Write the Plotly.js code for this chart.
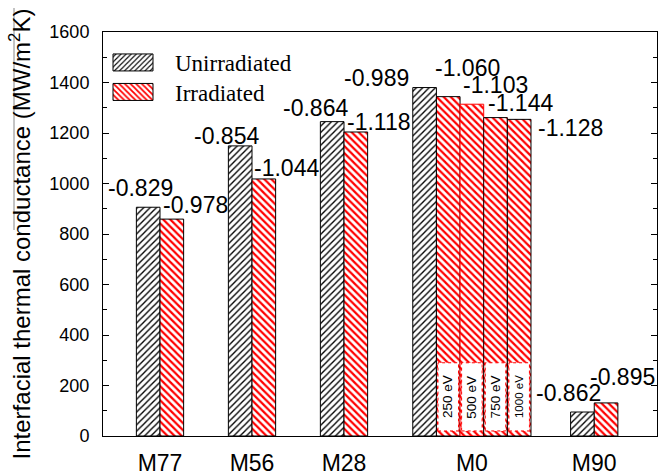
<!DOCTYPE html>
<html>
<head>
<meta charset="utf-8">
<script src="https://cdn.plot.ly/plotly-3.0.1.min.js"></script>
<style>
  html, body { margin: 0; padding: 0; background: #fff; }
  #chart { width: 663px; height: 475px; }
</style>
</head>
<body>
<div id="chart"></div>
<script>
// Interfacial thermal conductance per interface model
const categories = ['M77', 'M56', 'M28', 'M0', 'M90'];
const unirradiated = [906, 1149, 1245, 1380, 95];
const irradiated = [[859], [1018], [1204], [1344, 1314, 1261, 1254], [131]];
const unirradiatedLabels = ['-0.829', '-0.854', '-0.864', '-0.989', '-0.862'];
const irradiatedLabels = [['-0.978'], ['-1.044'], ['-1.118'], ['-1.060', '-1.103', '-1.144', '-1.128'], ['-0.895']];
const energies = ['250 eV', '500 eV', '750 eV', '1000 eV'];
const yTickValues = [0, 200, 400, 600, 800, 1000, 1200, 1400, 1600];

// Geometry of the grouped bars
const groupPos = [1, 2, 3, 4.39, 5.72];
const barW = 0.257;
const unShift = [[-8, 19], [-14, 10], [-17, 14], [-48, 10], [-14, 19]];
const irShift = [[[24, 14]], [[23, 11]], [[23, 10]], [[19, 29], [24, 19], [25, 15], [51, -9]], [[16, 26]]];

const unX = [], irX = [], irY = [], irLine = [];
const annotations = [];
const shapes = [];
const labelFont = { family: 'Liberation Sans, Arial, sans-serif', size: 23, color: '#000' };

categories.forEach((c, i) => {
  const n = 1 + irradiated[i].length;
  const start = groupPos[i] - (n - 1) / 2 * barW;
  unX.push(start);
  annotations.push({
    x: start, y: unirradiated[i], text: unirradiatedLabels[i], showarrow: false,
    xanchor: 'center', yanchor: 'middle', xshift: unShift[i][0], yshift: unShift[i][1], font: labelFont
  });
  irradiated[i].forEach((v, k) => {
    const bx = start + (k + 1) * barW;
    irX.push(bx);
    irY.push(v);
    irLine.push(irradiated[i].length > 1 && k === 1 ? '#ff0000' : '#000');
    annotations.push({
      x: bx, y: v, text: irradiatedLabels[i][k], showarrow: false,
      xanchor: 'center', yanchor: 'middle', xshift: irShift[i][k][0], yshift: irShift[i][k][1], font: labelFont
    });
    if (irradiated[i].length > 1) {
      shapes.push({
        type: 'rect', xref: 'x', yref: 'y', layer: 'above',
        x0: bx - barW / 2 + 0.017, x1: bx + barW / 2 - 0.017, y0: 20, y1: 290,
        fillcolor: '#fff', line: { color: '#ff0000', width: 1, dash: 'dot' }
      });
      annotations.push({
        x: bx, y: 155, text: energies[k], showarrow: false, textangle: -90,
        xanchor: 'center', yanchor: 'middle',
        font: { family: 'Liberation Sans, Arial, sans-serif', size: energies[k].length > 6 ? 11.5 : 13.5, color: '#000' }
      });
    }
  });
});

// thin rule beside the axis title
shapes.push({
  type: 'line', xref: 'paper', yref: 'paper',
  x0: (14 - 103) / 554, x1: (14 - 103) / 554, y0: (436 - 8) / 404, y1: (436 - 230) / 404,
  line: { color: '#888', width: 1 }
});

const traces = [
  {
    type: 'bar', name: 'Unirradiated', x: unX, y: unirradiated, width: barW,
    marker: {
      color: '#fff', line: { color: '#000', width: 1 },
      pattern: { shape: '/', fgcolor: '#000', bgcolor: '#fff', size: 4.5, solidity: 0.3 }
    },
    hoverinfo: 'skip'
  },
  {
    type: 'bar', name: 'Irradiated', x: irX, y: irY, width: barW,
    marker: {
      color: '#fff', line: { color: irLine, width: 1 },
      pattern: { shape: '\\', fgcolor: '#ff0000', bgcolor: '#fff', size: 5, solidity: 0.45 }
    },
    hoverinfo: 'skip'
  }
];

const layout = {
  width: 663, height: 475,
  margin: { l: 103, r: 6, t: 32, b: 39, pad: 0 },
  paper_bgcolor: '#fff', plot_bgcolor: '#fff',
  barmode: 'overlay',
  showlegend: true,
  legend: {
    x: (91 - 103) / 554, xanchor: 'left', y: 1 - (41 - 32) / 404, yanchor: 'top',
    bgcolor: 'rgba(0,0,0,0)', borderwidth: 0, itemwidth: 74, traceorder: 'normal',
    font: { family: 'Liberation Serif, Times New Roman, serif', size: 23, color: '#000' }
  },
  xaxis: {
    range: [1 - 57 / 92, 1 + 497 / 92],
    tickvals: groupPos, ticktext: categories,
    ticks: '', showgrid: false, zeroline: false,
    showline: true, linecolor: '#000', linewidth: 1, mirror: true,
    tickfont: { family: 'Liberation Sans, Arial, sans-serif', size: 23, color: '#000' },
    ticklabelstandoff: 6
  },
  yaxis: {
    range: [0, 1600], tickvals: yTickValues,
    ticks: 'inside', ticklen: 6, tickcolor: '#000', tickwidth: 1,
    minor: { dtick: 100, ticks: 'inside', ticklen: 4, tickcolor: '#000', tickwidth: 1, showgrid: false },
    showgrid: false, zeroline: false,
    showline: true, linecolor: '#000', linewidth: 1, mirror: 'ticks',
    tickfont: { family: 'Liberation Sans, Arial, sans-serif', size: 18, color: '#000' },
    ticklabelstandoff: 9,
    title: {
      text: 'Interfacial thermal conductance (MW/m<sup>2</sup>K)',
      font: { family: 'Liberation Sans, Arial, sans-serif', size: 24, color: '#000' },
      standoff: 11
    }
  },
  annotations: annotations,
  shapes: shapes
};

Plotly.newPlot('chart', traces, layout, { staticPlot: true, displayModeBar: false }).then(() => {
  // wider legend swatches, tighter row spacing
  document.querySelectorAll('.legend .legendpoints path').forEach(p => {
    p.setAttribute('d', 'M-20,-8.5H20V8.5H-20Z');
  });
  const rows = document.querySelectorAll('.legend .traces');
  if (rows.length === 2) {
    const m = /translate\(\s*([-\d.]+)[ ,]+([-\d.]+)/.exec(rows[0].getAttribute('transform') || '');
    if (m) {
      rows[1].setAttribute('transform', 'translate(' + m[1] + ',' + (parseFloat(m[2]) + 29.5) + ')');
    }
  }
});
</script>
</body>
</html>
